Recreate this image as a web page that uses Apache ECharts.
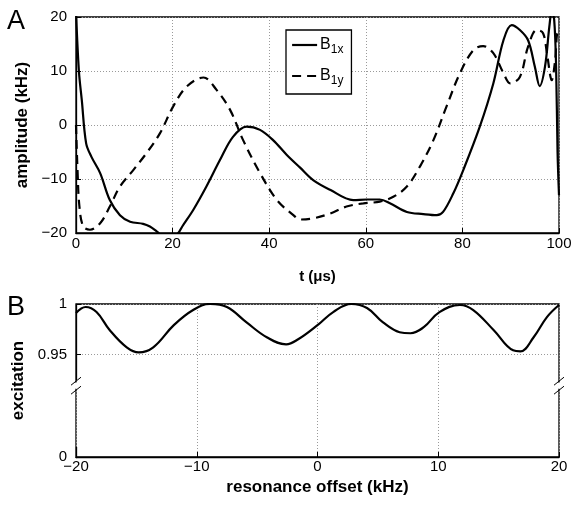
<!DOCTYPE html>
<html style="height: 100%">
<head>
  <meta charset="utf-8" />
  <title>B1 pulse</title>
  <script src="https://cdn.jsdelivr.net/npm/echarts@6/dist/echarts.min.js"></script>
</head>
<body style="height: 100%; margin: 0; overflow: hidden; background: #fff">
  <div id="container" style="width: 575px; height: 508px"></div>
  <script>
    // panel A: pulse amplitudes (kHz) vs time (us)
    var b1xT = [0, 0.6, 1.2, 2.1, 3.2, 5, 7, 9.1, 11.2, 13.9, 15.3, 16.7, 18, 19.5, 21, 22, 24.3, 27, 29.8, 32.5, 35.3, 38.1, 40.8, 43.6, 46.4, 49.1, 52.6, 57.4, 60.2, 62.9, 65, 68.5, 71.9, 74.7, 76, 78.1, 80.2, 83.6, 86.4, 88.5, 90.2, 91.9, 93.6, 95, 96, 97.1, 98, 98.5, 99, 99.4, 99.7, 100];
    var b1xV = [21, 10, 4.6, -3.4, -5.9, -8.9, -13.9, -16.7, -17.9, -18.3, -18.8, -19.7, -20.6, -20.8, -20.2, -18.8, -15.7, -11.4, -6.5, -2.2, -0.3, -0.9, -2.8, -5.5, -7.9, -10.2, -12, -13.9, -13.8, -13.8, -14.5, -16.1, -16.5, -16.7, -16.1, -12.7, -8.3, -0.3, 7.7, 15.7, 18.5, 17.6, 15.7, 10.8, 7.2, 10.8, 18.2, 21, 19.5, 10.8, -5, -13];
    var b1yT = [0, 0.3, 0.7, 1.5, 2.9, 5, 7, 9.1, 11.9, 14.6, 17.4, 20.1, 22.9, 26.4, 29.1, 31.9, 34.6, 38.1, 41.6, 45, 46.4, 49.1, 52.6, 56, 59.5, 62.9, 65.7, 68.5, 71.2, 74, 76.7, 79.5, 82.3, 84.3, 86.4, 88.5, 89.9, 91.9, 93.6, 95.4, 96.7, 97.5, 98.5, 99.2, 99.7, 100];
    var b1yV = [0, -8, -15, -18.8, -19.4, -18.2, -15.1, -11.4, -8.3, -5.2, -1.5, 3.4, 7.1, 8.8, 6.5, 2.8, -2.8, -8.9, -13.9, -16.7, -17.5, -17.3, -16.4, -15.1, -14.5, -14.2, -13.3, -11.4, -7.7, -2.8, 3.4, 9.6, 13.9, 14.6, 13.3, 9.6, 7.7, 8.9, 14.5, 17.6, 17, 13.3, 8.3, 12, 17, 17];

    // panel B: excitation profile vs resonance offset (kHz)
    var offsetKHz = [-20, -19.2, -18.3, -17.2, -15.8, -14.8, -13.6, -11.9, -10.3, -8.9, -7.5, -5.9, -4.2, -2.6, -1.6, 0, 1.3, 2.8, 4.1, 5.4, 6.8, 7.7, 8.8, 10.1, 11.8, 12.9, 14.6, 16.2, 16.8, 17.9, 19, 20];
    var excitation = [0.991, 0.997, 0.992, 0.974, 0.957, 0.952, 0.957, 0.979, 0.994, 1.0, 0.997, 0.982, 0.967, 0.960, 0.965, 0.979, 0.992, 1.0, 0.996, 0.982, 0.972, 0.971, 0.977, 0.992, 0.999, 0.994, 0.974, 0.954, 0.953, 0.967, 0.987, 0.999];

    var tTicks = [0, 100, 20];
    var ampTicks = [-20, 20, 10];
    var offTicks = [-20, 20, 10];
    var excLabels = [0, 0.95, 1];

    var pairs = (xs, ys) => xs.map((x, i) => [x, ys[i]]);
    var font = "'Liberation Sans', Arial, sans-serif";
    var minus = v => String(v).replace('-', '\u2212');
    var dotted = { show: true, lineStyle: { color: '#9a9a9a', width: 1, type: [1, 2] } };
    var axLine = { show: true, onZero: false, lineStyle: { color: '#000', width: 1.3 } };
    var tick = { show: true, inside: true, length: 5, lineStyle: { color: '#000' } };
    var lbl = { color: '#000', fontFamily: font, fontSize: 15 };
    var title = { color: '#000', fontFamily: font, fontSize: 17, fontWeight: 'bold' };

    var dom = document.getElementById('container');
    var myChart = echarts.init(dom, null, { renderer: 'canvas' });

    var option = {
      animation: false,
      backgroundColor: '#fff',
      textStyle: { fontFamily: font },
      grid: [
        { left: 76, top: 17, width: 483, height: 216, show: true, borderColor: '#000', borderWidth: 1.3 },
        { left: 76, top: 304, width: 483, height: 153, show: true, borderColor: '#000', borderWidth: 1.3 }
      ],
      xAxis: [
        {
          gridIndex: 0, type: 'value', min: tTicks[0], max: tTicks[1], interval: tTicks[2],
          axisLine: axLine, axisTick: tick, splitLine: dotted,
          axisLabel: Object.assign({ margin: 3, formatter: minus }, lbl),
          name: 't (\u03bcs)', nameLocation: 'middle', nameGap: 36,
          nameTextStyle: Object.assign({}, title, { fontSize: 15 })
        },
        {
          gridIndex: 1, type: 'value', min: offTicks[0], max: offTicks[1], interval: offTicks[2],
          axisLine: axLine, axisTick: tick, splitLine: dotted,
          axisLabel: Object.assign({ margin: 2, formatter: minus }, lbl),
          name: 'resonance offset (kHz)', nameLocation: 'middle', nameGap: 22,
          nameTextStyle: title
        }
      ],
      yAxis: [
        {
          gridIndex: 0, type: 'value', min: ampTicks[0], max: ampTicks[1], interval: ampTicks[2],
          axisLine: axLine, axisTick: tick, splitLine: dotted,
          axisLabel: Object.assign({ margin: 9, formatter: minus }, lbl),
          name: 'amplitude (kHz)', nameLocation: 'middle', nameGap: 44,
          nameTextStyle: title
        },
        {
          gridIndex: 1, type: 'value', min: 0, max: 1, interval: 0.05,
          breaks: [{ start: 0.01, end: 0.925, gap: '44%' }],
          breakArea: { show: false },
          axisLine: axLine,
          axisTick: Object.assign({ customValues: excLabels }, tick),
          splitLine: { show: true, lineStyle: dotted.lineStyle },
          axisLabel: Object.assign({
            margin: 9, customValues: excLabels,
            formatter: v => String(Math.round(v * 100) / 100)
          }, lbl),
          name: 'excitation', nameLocation: 'middle', nameGap: 46,
          nameTextStyle: title
        }
      ],
      legend: {
        left: 286, top: 30, orient: 'vertical',
        data: ['B1x', 'B1y'],
        backgroundColor: '#fff', borderColor: '#000', borderWidth: 1.3, borderRadius: 0,
        padding: [7, 8, 7, 5], itemGap: 12, itemWidth: 25, itemHeight: 14,
        itemStyle: { opacity: 0 },
        lineStyle: { width: 2.2 },
        formatter: n => 'B{s|' + n.slice(1) + '}',
        textStyle: {
          color: '#000', fontFamily: font, fontSize: 16, padding: [0, 0, 0, -2],
          rich: { s: { fontSize: 12, fontFamily: font, color: '#000', padding: [10, 0, 0, 0] } }
        }
      },
      series: [
        {
          name: 'B1x', type: 'line', xAxisIndex: 0, yAxisIndex: 0, smooth: 0.35, symbol: 'none',
          lineStyle: { color: '#000', width: 2.2 }, itemStyle: { color: '#000' },
          data: pairs(b1xT, b1xV)
        },
        {
          name: 'B1y', type: 'line', xAxisIndex: 0, yAxisIndex: 0, smooth: 0.35, symbol: 'none',
          lineStyle: { color: '#000', width: 2.2, type: [9, 6] }, itemStyle: { color: '#000' },
          data: pairs(b1yT, b1yV)
        },
        {
          name: 'excitation', type: 'line', xAxisIndex: 1, yAxisIndex: 1, smooth: 0.4, symbol: 'none',
          lineStyle: { color: '#000', width: 2.2 },
          data: pairs(offsetKHz, excitation)
        }
      ],
      graphic: [
        { type: 'text', left: 7, top: 8, style: { text: 'A', fontSize: 27, fontFamily: font, fill: '#000' } },
        { type: 'text', left: 7, top: 294, style: { text: 'B', fontSize: 27, fontFamily: font, fill: '#000' } }
      ]
    };
    myChart.setOption(option);

    // axis-break marks on the left and right edges of panel B
    var yBreak = (myChart.convertToPixel({ yAxisIndex: 1 }, 0.95) + myChart.convertToPixel({ yAxisIndex: 1 }, 0)) / 2 - 20;
    var marks = [];
    [76, 559].forEach(x => {
      marks.push({ type: 'rect', z: 100, shape: { x: x - 4, y: yBreak - 3, width: 8, height: 6 }, style: { fill: '#fff' } });
      marks.push({ type: 'line', z: 101, shape: { x1: x - 5, y1: yBreak - 0.5, x2: x + 5, y2: yBreak - 8.5 }, style: { stroke: '#000', lineWidth: 1 } });
      marks.push({ type: 'line', z: 101, shape: { x1: x - 5, y1: yBreak + 8.5, x2: x + 5, y2: yBreak + 0.5 }, style: { stroke: '#000', lineWidth: 1 } });
    });
    myChart.setOption({ graphic: option.graphic.concat(marks) });
  </script>
</body>
</html>
